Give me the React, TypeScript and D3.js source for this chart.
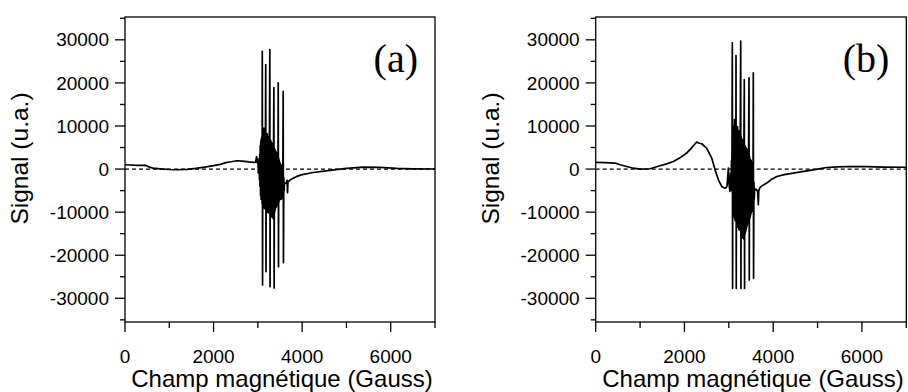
import React from "react";
import * as d3 from "d3";

// ---------- data ----------
const xMajorTicks = [0, 2000, 4000, 6000];
const xMinorTicks = [1000, 3000, 5000, 7000];
const yMajorTicks = [-30000, -20000, -10000, 0, 10000, 20000, 30000];
const yMinorTicks = [-35000, -25000, -15000, -5000, 5000, 15000, 25000, 35000];

const xTitle = "Champ magnétique (Gauss)";
const yTitle = "Signal (u.a.)";
const panelLabels = ["(a)", "(b)"];

// Panel (a)
const aBefore: [number, number][] = [
  [0, 1000], [100, 950], [200, 900], [300, 880], [400, 850], [450, 900], [500, 700],
  [550, 450], [630, 230], [800, 50], [1000, -100], [1170, -160], [1400, -50], [1600, 150],
  [1800, 450], [2000, 800], [2150, 1100], [2300, 1540], [2400, 1700], [2525, 1930],
  [2650, 1850], [2800, 1650], [2900, 1540], [2950, 1600], [2970, 2900], [2985, 1500],
  [3000, 2400], [3010, -900], [3020, 1200],
];
const aBurst: [number, number][] = [
  [3030, 1500], [3036, -2500], [3042, 3500], [3048, -4000], [3054, 5500], [3060, -6000],
  [3066, 6500], [3072, -7000], [3078, 7000], [3084, -6500], [3090, 7500], [3096, -8000],
  [3100, 27350], [3106, -26900], [3112, 8000], [3118, -8500], [3124, 8500], [3130, -9000],
  [3136, 9500], [3142, -8500], [3148, 8800], [3154, -9200], [3160, 9000], [3166, -8800],
  [3172, 8600], [3178, 24250], [3184, -23800], [3190, 8000], [3196, -9500], [3202, 7800],
  [3208, -9800], [3214, 8200], [3220, -10000], [3226, 7600], [3232, -9600], [3238, 7200],
  [3244, -10200], [3250, 7000], [3256, -9800], [3262, 7400], [3270, 27750], [3276, -27300],
  [3282, 6800], [3288, -10500], [3294, 6500], [3300, -11000], [3306, 6200], [3312, -10800],
  [3318, 6000], [3324, -11200], [3330, 5800], [3336, -10600], [3342, 5500], [3348, -11500],
  [3354, 5200], [3362, 18900], [3368, -27600], [3374, 4800], [3380, -10000], [3386, 4500],
  [3392, -9500], [3398, 4200], [3404, -9000], [3410, 4000], [3416, -8800], [3422, 3800],
  [3428, -8500], [3434, 3500], [3440, -8000], [3446, 3200], [3452, -7800], [3460, 20000],
  [3466, -22650], [3472, 2500], [3478, -7500], [3484, 2000], [3490, -7200], [3496, 1500],
  [3502, -7000], [3508, 1200], [3514, -6800], [3520, 1000], [3526, -7000], [3532, 800],
  [3538, -6500], [3544, 500], [3550, -6800], [3556, 300], [3562, -6500], [3572, 18050],
  [3578, -21700], [3586, -2000], [3594, -5000], [3600, -3200],
];
const aAfter: [number, number][] = [
  [3640, -3300], [3660, -2600], [3670, -5500], [3680, -3000], [3720, -2600], [3800, -2100],
  [3880, -1700], [4000, -1300], [4250, -790], [4630, -320], [5000, 140], [5380, 470],
  [5760, 400], [6135, 140], [6500, 50], [7000, 20],
];

// Panel (b)
const bBefore: [number, number][] = [
  [0, 1540], [200, 1500], [435, 1400], [550, 1000], [700, 600], [850, 200], [1000, 0],
  [1225, 80], [1450, 770], [1600, 1200], [1750, 1770], [1900, 2600], [2050, 3720],
  [2150, 4800], [2275, 6280], [2330, 6000], [2390, 5880], [2500, 4880], [2615, 2560],
  [2690, -160], [2765, -2490], [2840, -4040], [2900, -4420], [2940, -4300], [2960, -3880],
  [2975, -2000], [2990, 230], [3005, -3500], [3025, -5200], [3040, -1000], [3050, -4000],
];
const bBurst: [number, number][] = [
  [3060, 2000], [3066, -5000], [3072, 5000], [3079, 29300], [3085, -27680], [3091, 6000],
  [3097, -9000], [3103, 8500], [3109, -10000], [3115, 10000], [3121, -11000], [3127, 11500],
  [3133, -11500], [3139, 11000], [3145, -12000], [3151, 10500], [3157, -11500], [3162, 26350],
  [3168, -27680], [3174, 10000], [3180, -12500], [3186, 9500], [3192, -13000], [3198, 9800],
  [3204, -13500], [3210, 9000], [3216, -13000], [3222, 8800], [3228, -14000], [3234, 8500],
  [3240, -13500], [3246, 8000], [3252, -14200], [3258, 7800], [3268, 29680], [3274, -27680],
  [3280, 7500], [3286, -15000], [3292, 7000], [3298, -15500], [3304, 6800], [3310, -16000],
  [3316, 6500], [3322, -15000], [3328, 6200], [3334, -16200], [3340, 6000], [3349, 20770],
  [3355, -27680], [3361, 5500], [3367, -15000], [3373, 5200], [3379, -14500], [3385, 5000],
  [3391, -14000], [3397, 4800], [3403, -13500], [3409, 4500], [3415, -13000], [3421, 4200],
  [3427, -12500], [3433, 4000], [3439, -12000], [3445, 3500], [3455, 21170], [3461, -25750],
  [3467, 3000], [3473, -11500], [3479, 2500], [3485, -11000], [3491, 2200], [3497, -10500],
  [3503, 2000], [3509, -10000], [3515, 1500], [3521, -9800], [3527, 1200], [3533, -9500],
  [3539, 1000], [3545, -9000], [3552, 22330], [3558, -25360], [3566, -3000], [3574, -7000],
  [3582, -4500], [3590, -4810],
];
const bAfter: [number, number][] = [
  [3620, -4700], [3650, -5200], [3665, -8300], [3675, -5000], [3700, -4300], [3760, -3800],
  [3855, -3260], [3960, -2400], [4080, -1720], [4250, -1300], [4455, -940], [4650, -600],
  [4830, -320], [5000, 0], [5205, 370], [5450, 520], [5730, 600], [6100, 550], [6480, 470],
  [7000, 420],
];

const panelA = [...aBefore, ...aBurst, ...aAfter];
const panelB = [...bBefore, ...bBurst, ...bAfter];

const FONT = "'Liberation Sans', Arial, sans-serif";

type PanelProps = {
  data: [number, number][];
  left: number;
  right: number;
  label: string;
};

const TOP = 17;
const BOTTOM = 322;

function Panel({ data, left, right, label }: PanelProps) {
  const x = d3.scaleLinear().domain([0, 7000]).range([left, right]);
  const y = d3.scaleLinear().domain([-35500, 35300]).range([BOTTOM, TOP]);
  const line = d3
    .line<[number, number]>()
    .x((d) => x(d[0]))
    .y((d) => y(d[1]));
  const titleX = left - 97;
  return (
    <g>
      {/* zero dashed line */}
      <line
        x1={left}
        x2={right}
        y1={y(0)}
        y2={y(0)}
        stroke="#000"
        strokeWidth={1.3}
        strokeDasharray="4,3"
      />
      <path d={line(data) || ""} fill="none" stroke="#000" strokeWidth={1.7} strokeLinejoin="round" />
      {/* frame */}
      <rect x={left} y={TOP} width={right - left} height={BOTTOM - TOP} fill="none" stroke="#000" strokeWidth={1.3} />
      {/* y ticks */}
      {yMajorTicks.map((t) => (
        <g key={"ym" + t}>
          <line x1={left - 10} x2={left} y1={y(t)} y2={y(t)} stroke="#000" strokeWidth={1.3} />
          <text
            x={left - 16}
            y={y(t)}
            dy="0.35em"
            textAnchor="end"
            fontSize={19}
            fontFamily={FONT}
          >
            {String(t)}
          </text>
        </g>
      ))}
      {yMinorTicks.map((t) => (
        <line key={"yn" + t} x1={left - 5} x2={left} y1={y(t)} y2={y(t)} stroke="#000" strokeWidth={1.3} />
      ))}
      {/* x ticks */}
      {xMajorTicks.map((t) => (
        <g key={"xm" + t}>
          <line x1={x(t)} x2={x(t)} y1={BOTTOM} y2={BOTTOM + 10} stroke="#000" strokeWidth={1.3} />
          <text x={x(t)} y={363} textAnchor="middle" fontSize={19} fontFamily={FONT}>
            {String(t)}
          </text>
        </g>
      ))}
      {xMinorTicks.map((t) => (
        <line key={"xn" + t} x1={x(t)} x2={x(t)} y1={BOTTOM} y2={BOTTOM + 6} stroke="#000" strokeWidth={1.3} />
      ))}
      {/* titles */}
      <text
        x={(left + right) / 2 + 2}
        y={387}
        textAnchor="middle"
        fontSize={24}
        fontFamily={FONT}
      >
        {xTitle}
      </text>
      <text
        transform={`translate(${titleX},158.5) rotate(-90)`}
        textAnchor="middle"
        fontSize={24.5}
        fontFamily={FONT}
      >
        {yTitle}
      </text>
      <text
        x={right - 17}
        y={72}
        textAnchor="end"
        fontSize={40}
        fontFamily="'Liberation Serif', 'Times New Roman', serif"
      >
        {label}
      </text>
    </g>
  );
}

export default function App() {
  return (
    <svg
      width={908}
      height={392}
      style={{ position: "absolute", left: 0, top: 0, background: "#fff" }}
    >
      <rect x={0} y={0} width={908} height={392} fill="#fff" />
      <Panel data={panelA} left={125} right={435} label={panelLabels[0]} />
      <Panel data={panelB} left={595.7} right={906.3} label={panelLabels[1]} />
    </svg>
  );
}
